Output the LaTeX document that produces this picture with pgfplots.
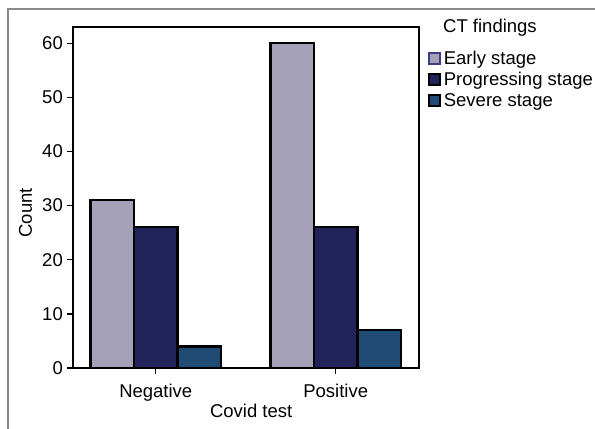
\documentclass[border=0pt]{standalone}
\usepackage{pgfplots}
\pgfplotsset{compat=1.18}
\usepackage{fontspec}
\setmainfont{Liberation Sans}
\definecolor{early}{HTML}{A5A1B8}
\definecolor{earlyedge}{HTML}{3C3D80}
\definecolor{prog}{HTML}{22235A}
\definecolor{severe}{HTML}{1F4B75}
\definecolor{framegray}{HTML}{8A8A8A}

\begin{document}
\begin{tikzpicture}[font=\fontsize{18.5bp}{22bp}\selectfont]
\path[use as bounding box] (0,0) rectangle (595bp,429bp);
\draw[framegray, line width=1.2bp] (8bp,0) -- (8bp,420bp) -- (595bp,420bp);
\begin{axis}[
  at={(73bp,61bp)}, anchor=south west,
  width=346bp, height=341bp, scale only axis,
  ybar=0pt, bar width=43.5bp,
  xmin=-0.46, xmax=1.463, ymin=0, ymax=63,
  xtick={0,1}, xticklabels={Negative,Positive},
  ytick={0,10,...,60},
  xtick pos=left, ytick pos=left,
  tick align=outside, major tick length=6bp,
  axis line style={line width=2.4bp},
  every tick/.style={black, line width=1.3bp},
  /pgf/number format/assume math mode=true,
  yticklabel style={inner sep=0pt, xshift=-4bp},
  xticklabel style={inner sep=0pt, text height=13bp, yshift=-10bp},
  xlabel={Covid test},
  ylabel={Count},
  xlabel style={at={(axis description cs:0.515,-0.1466)}, anchor=base},
  ylabel style={at={(axis description cs:-0.1185,0.455)}, anchor=base},
  legend style={at={(1.0265,0.928)}, anchor=north west, draw=none, fill=none,
    inner sep=0pt, row sep=8bp,
    nodes={inner sep=0pt, text height=13bp, text depth=0pt},
    /tikz/every odd column/.append style={column sep=2.5bp}},
  legend cell align=left,
]
\addplot[fill=early, draw=black, line width=2.4bp,
  legend image code/.code={\draw[fill=early, draw=earlyedge, line width=2bp] (0bp,-5.5bp) rectangle (11bp,5.5bp);}]
  coordinates {(0,31) (1,60)};
\addlegendentry{Early stage}
\addplot[fill=prog, draw=black, line width=2.4bp,
  legend image code/.code={\draw[fill=prog, draw=black, line width=2bp] (0bp,-5.5bp) rectangle (11bp,5.5bp);}]
  coordinates {(0,26) (1,26)};
\addlegendentry{Progressing stage}
\addplot[fill=severe, draw=black, line width=2.4bp,
  legend image code/.code={\draw[fill=severe, draw=black, line width=2bp] (0bp,-5.5bp) rectangle (11bp,5.5bp);}]
  coordinates {(0,4) (1,7)};
\addlegendentry{Severe stage}
\end{axis}
\node[anchor=base west, inner sep=0pt] at (443bp,396bp) {CT findings};
\end{tikzpicture}
\end{document}
